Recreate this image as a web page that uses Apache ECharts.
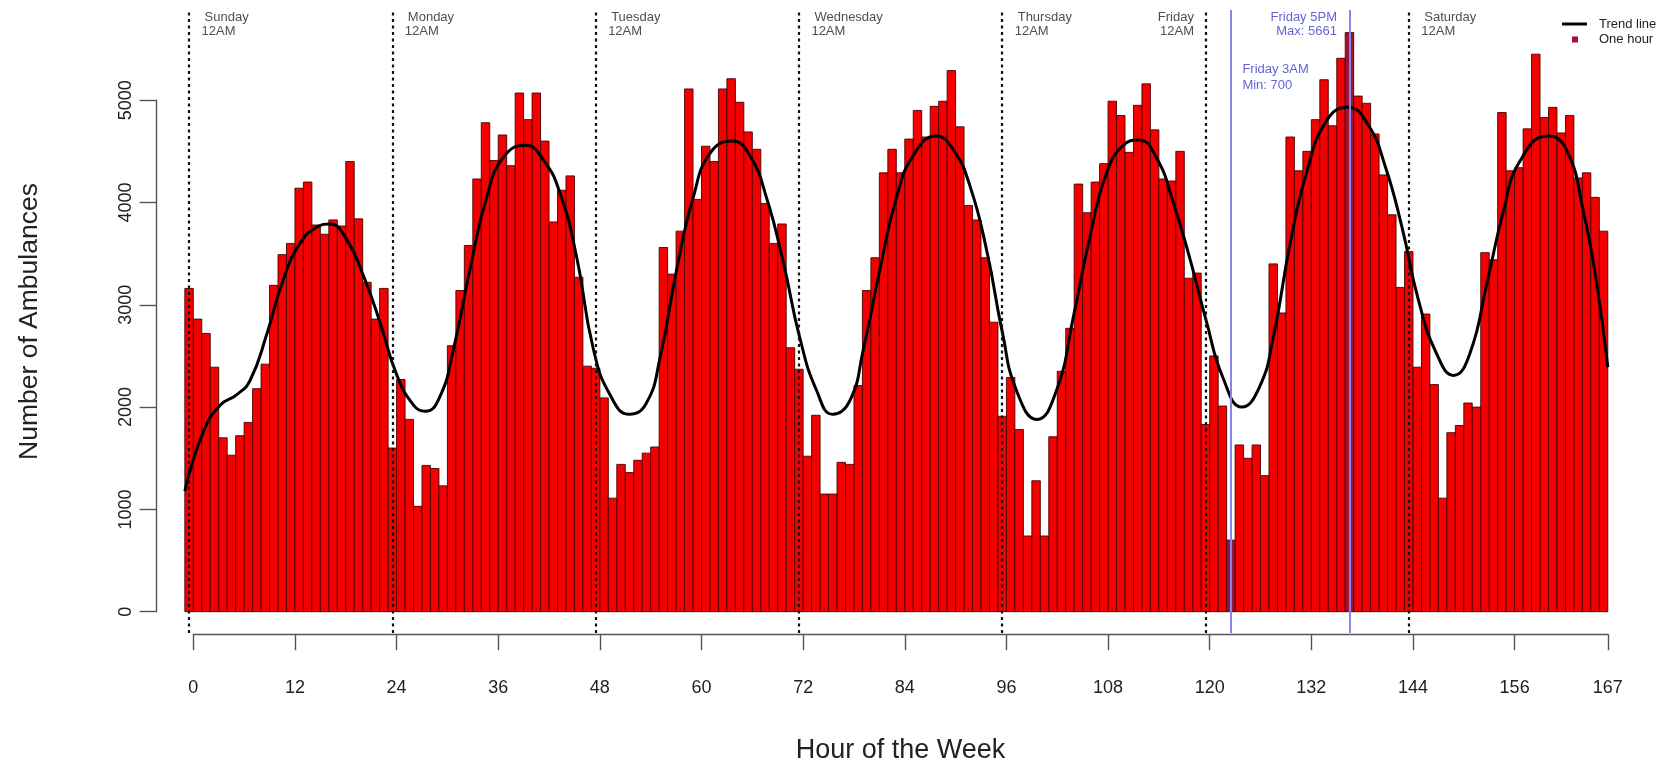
<!DOCTYPE html>
<html>
<head>
<meta charset="utf-8">
<title>Ambulances by hour of the week</title>
<script src="https://cdn.jsdelivr.net/npm/echarts@6.0.0/dist/echarts.min.js"></script>
<style>
  html, body { margin: 0; padding: 0; background: #fff; }
  #chart { width: 1671px; height: 764px; }
</style>
</head>
<body>
<div id="chart"></div>
<script>
// hour of the week, 0 = Sunday 12AM
const hours = Array.from({length: 168}, (_, i) => i);

// number of ambulances per hour
const ambulances = [
  // Sunday
  3160, 2860, 2720, 2390, 1700, 1530, 1720, 1850, 2180, 2420, 3190, 3490,
  3600, 4140, 4200, 3780, 3690, 3830, 3770, 4400, 3840, 3220, 2860, 3160,
  // Monday
  1600, 2270, 1880, 1030, 1430, 1400, 1230, 2600, 3140, 3580, 4230, 4780,
  4410, 4660, 4360, 5070, 4810, 5070, 4600, 3810, 4120, 4260, 3270, 2400,
  // Tuesday
  2380, 2090, 1110, 1440, 1360, 1480, 1550, 1610, 3560, 3300, 3720, 5110,
  4030, 4550, 4400, 5110, 5210, 4980, 4690, 4520, 3990, 3600, 3790, 2580,
  // Wednesday
  2370, 1520, 1920, 1150, 1150, 1460, 1440, 2210, 3140, 3460, 4290, 4520,
  4290, 4620, 4900, 4640, 4940, 4990, 5290, 4740, 3970, 3830, 3460, 2830,
  // Thursday
  1910, 2290, 1780, 740, 1280, 740, 1710, 2350, 2770, 4180, 3900, 4200,
  4380, 4990, 4850, 4490, 4950, 5160, 4710, 4230, 4210, 4500, 3260, 3310,
  // Friday
  1830, 2500, 2010, 700, 1630, 1500, 1630, 1330, 3400, 2920, 4640, 4310,
  4500, 4810, 5200, 4750, 5410, 5661, 5040, 4970, 4670, 4270, 3880, 3170,
  // Saturday
  3520, 2390, 2910, 2220, 1110, 1750, 1820, 2040, 2000, 3510, 3440, 4880,
  4310, 4340, 4720, 5450, 4830, 4930, 4680, 4850, 4240, 4290, 4050, 3720
];

// smoothed trend line, sampled along the curve
const trendHours = [
  -1, 1.2, 3.2, 5.1, 6.7, 8.7, 10.6, 12.6, 14.6, 16.1,
  18.1, 20.1, 22, 24, 26, 27.4, 29.1, 30.7, 32.7, 34.6,
  36.6, 39.2, 41.3, 43.3, 45.3, 47.2, 49.2, 51.5, 53.5, 55.1,
  57.1, 59, 61, 63.6, 65.7, 67.7, 69.7, 71.6, 73.6, 75.5,
  77.5, 79.1, 81.1, 83, 85, 87.7, 89.7, 91.7, 93.7, 95.5,
  97.2, 99.6, 101.9, 103.9, 105.9, 107.8, 109.8, 111.6, 113.7, 115.7,
  117.7, 119.6, 121.6, 123.8, 125.9, 127.5, 129.5, 131.4, 133.8, 136.3,
  138.7, 140.7, 142.7, 144.6, 146.8, 148.8, 150.7, 152.7, 154.7, 156.6,
  159.9, 162.1, 164.1, 165.7, 167
];
const trendValues = [
  1180, 1760, 2020, 2120, 2260, 2720, 3240, 3600, 3760, 3790,
  3640, 3280, 2840, 2320, 2020, 1960, 2100, 2560, 3360, 4040,
  4440, 4560, 4420, 4090, 3450, 2580, 2120, 1930, 2040, 2480,
  3360, 4040, 4480, 4600, 4460, 4040, 3400, 2680, 2160, 1930,
  2060, 2560, 3360, 4040, 4460, 4650, 4520, 4160, 3520, 2740,
  2160, 1880, 2160, 2880, 3680, 4280, 4560, 4610, 4440, 4000,
  3440, 2840, 2280, 2000, 2200, 2680, 3600, 4280, 4800, 4930,
  4760, 4360, 3760, 3060, 2520, 2310, 2520, 3200, 3920, 4400,
  4650, 4520, 3920, 3200, 2390
];

const dayNames = ['Sunday', 'Monday', 'Tuesday', 'Wednesday', 'Thursday', 'Friday', 'Saturday'];
const dayTime = '12AM';
const xTicks = [0, 12, 24, 36, 48, 60, 72, 84, 96, 108, 120, 132, 144, 156, 167];
const yTicks = [0, 1000, 2000, 3000, 4000, 5000];

// page layout in pixels
const W = 1671, H = 764;
const X0 = 193.3, PX_H = 8.47;    // x of hour 0, px per hour
const Y0 = 611.7, PX_V = 0.1023;  // y of zero, px per ambulance
const PLOT_TOP = 10, PLOT_BOTTOM = 633;
const X_AXIS_Y = 635, Y_AXIS_X = 156.6;

const xMin = -1, xMax = 167;
const yMin = -(PLOT_BOTTOM - Y0) / PX_V;
const yMax = (Y0 - PLOT_TOP) / PX_V;
const plotLeft = X0 + xMin * PX_H;
const plotRight = W - (X0 + xMax * PX_H);

const RED = '#f40000';
const DARK = '#9c1436';
const BLUE_LINE = '#8585ee';
const BLUE_TEXT = '#3a3acc';
const FONT = '"Liberation Sans", Arial, Helvetica, sans-serif';

// busiest and quietest hours
let maxHour = 0, minHour = 0;
ambulances.forEach(function (v, i) {
  if (v > ambulances[maxHour]) maxHour = i;
  if (v < ambulances[minHour]) minHour = i;
});

function hourName(h) {
  let hr = h % 24;
  let h12 = hr % 12 === 0 ? 12 : hr % 12;
  return dayNames[Math.floor(h / 24)] + ' ' + h12 + (hr < 12 ? 'AM' : 'PM');
}

// one bar per hour, bar h covers [h-1, h] on the axis
function renderBar(params, api) {
  let h = api.value(0);
  let top = api.coord([h, api.value(1)]);
  let base = api.coord([h - 1, 0]);
  let hl = (h === maxHour || h === minHour);
  return {
    type: 'rect',
    shape: {x: base[0], y: top[1], width: top[0] - base[0], height: base[1] - top[1]},
    style: {fill: hl ? DARK : RED, stroke: '#4a0000', lineWidth: 0.9}
  };
}

let dayLines = dayNames.map(function (d, k) {
  return {xAxis: 24 * k - 0.5};
});
let markLines = dayLines.concat([
  {xAxis: minHour - 0.5, lineStyle: {color: BLUE_LINE, width: 2, type: 'solid'}},
  {xAxis: maxHour - 0.5, lineStyle: {color: BLUE_LINE, width: 2, type: 'solid'}}
]);

let dayLabels = dayNames.map(function (d, k) {
  let right = d === 'Friday';
  return {
    value: [24 * k - 0.5, yMax],
    name: d,
    label: right
      ? {align: 'right', position: [-11, 1.5], formatter: '{b}\n' + dayTime}
      : {align: 'left', position: [13, 1.5], formatter: '{d|{b}}\n' + dayTime}
  };
});

let extremeLabels = [
  {
    value: [maxHour - 0.5, yMax],
    name: hourName(maxHour) + '\nMax: ' + ambulances[maxHour],
    label: {align: 'right', position: [-12, 1.5]}
  },
  {
    value: [minHour - 0.5, yMax],
    name: hourName(minHour) + '\nMin: ' + ambulances[minHour],
    label: {align: 'left', position: [12, 52], lineHeight: 16}
  }
];

let chart = echarts.init(document.getElementById('chart'), null, {renderer: 'canvas'});
chart.setOption({
  animation: false,
  backgroundColor: '#fff',
  textStyle: {fontFamily: FONT},
  grid: [
    // plot area
    {left: plotLeft, right: plotRight, top: PLOT_TOP, bottom: H - PLOT_BOTTOM},
    // detached x axis
    {left: X0, right: plotRight, top: X_AXIS_Y - 1, height: 1},
    // detached y axis
    {left: Y_AXIS_X, width: 1, top: Y0 - 5000 * PX_V, height: 5000 * PX_V}
  ],
  xAxis: [
    {gridIndex: 0, type: 'value', min: xMin, max: xMax, show: false},
    {
      gridIndex: 1, type: 'value', min: 0, max: 167, interval: 12,
      name: 'Hour of the Week', nameLocation: 'middle', nameGap: 103,
      nameTextStyle: {fontSize: 27, color: '#222'},
      axisLine: {show: true, lineStyle: {color: '#555', width: 1.4}},
      axisTick: {show: true, length: 16, customValues: xTicks, lineStyle: {color: '#555', width: 1.4}},
      axisLabel: {show: true, customValues: xTicks, fontSize: 18, color: '#222', margin: 45},
      splitLine: {show: false}
    },
    {gridIndex: 2, type: 'value', show: false}
  ],
  yAxis: [
    {
      gridIndex: 0, type: 'value', min: yMin, max: yMax,
      name: 'Number of Ambulances', nameLocation: 'middle', nameGap: 142,
      nameTextStyle: {fontSize: 26.5, color: '#222'},
      axisLine: {show: false}, axisTick: {show: false},
      axisLabel: {show: false}, splitLine: {show: false}
    },
    {gridIndex: 1, type: 'value', show: false},
    {
      gridIndex: 2, type: 'value', min: 0, max: 5000, interval: 1000,
      axisLine: {show: true, lineStyle: {color: '#555', width: 1.4}},
      axisTick: {show: true, length: 17, customValues: yTicks, lineStyle: {color: '#555', width: 1.4}},
      axisLabel: {
        show: true, customValues: yTicks, rotate: 90, fontSize: 18, color: '#222', margin: 22,
        formatter: function (v) { return String(v); }
      },
      splitLine: {show: false}
    }
  ],
  legend: [
    {
      data: [{name: 'Trend line', icon: 'rect', itemStyle: {color: '#000'}}],
      left: 1562, top: 17.5, padding: 0, selectedMode: false,
      itemWidth: 25, itemHeight: 3,
      textStyle: {fontSize: 13, color: '#222', padding: [0, 0, 0, 7]}
    },
    {
      data: [{name: 'One hour', icon: 'rect', itemStyle: {color: DARK}}],
      left: 1572, top: 33, padding: 0, selectedMode: false,
      itemWidth: 6, itemHeight: 6,
      textStyle: {fontSize: 13, color: '#222', padding: [0, 0, 0, 16]}
    }
  ],
  series: [
    {
      name: 'One hour',
      type: 'custom',
      xAxisIndex: 0, yAxisIndex: 0,
      renderItem: renderBar,
      itemStyle: {color: RED},
      encode: {x: 0, y: 1},
      data: hours.map(function (h) { return [h, ambulances[h]]; }),
      silent: true
    },
    {
      name: 'Trend line',
      type: 'line',
      xAxisIndex: 0, yAxisIndex: 0,
      data: trendHours.map(function (h, i) { return [h, trendValues[i]]; }),
      smooth: 0.5,
      showSymbol: false,
      symbol: 'none',
      lineStyle: {color: '#000', width: 3},
      itemStyle: {color: '#000'},
      z: 4,
      silent: true,
      markLine: {
        silent: true,
        symbol: ['none', 'none'],
        label: {show: false},
        lineStyle: {color: '#111', width: 2.2, type: [3, 3.5]},
        data: markLines
      }
    },
    {
      type: 'scatter',
      xAxisIndex: 0, yAxisIndex: 0,
      symbolSize: 1,
      itemStyle: {color: 'rgba(0,0,0,0)'},
      silent: true,
      z: 5,
      label: {
        show: true, fontSize: 13, lineHeight: 13.5, color: '#222',
        verticalAlign: 'top',
        rich: {d: {fontSize: 13, lineHeight: 13.5, color: '#222', padding: [0, 0, 0, 3]}}
      },
      data: dayLabels
    },
    {
      type: 'scatter',
      xAxisIndex: 0, yAxisIndex: 0,
      symbolSize: 1,
      itemStyle: {color: 'rgba(0,0,0,0)'},
      silent: true,
      z: 5,
      label: {
        show: true, fontSize: 13, lineHeight: 13.5, color: BLUE_TEXT,
        verticalAlign: 'top', formatter: '{b}'
      },
      data: extremeLabels
    }
  ]
});
</script>
</body>
</html>
